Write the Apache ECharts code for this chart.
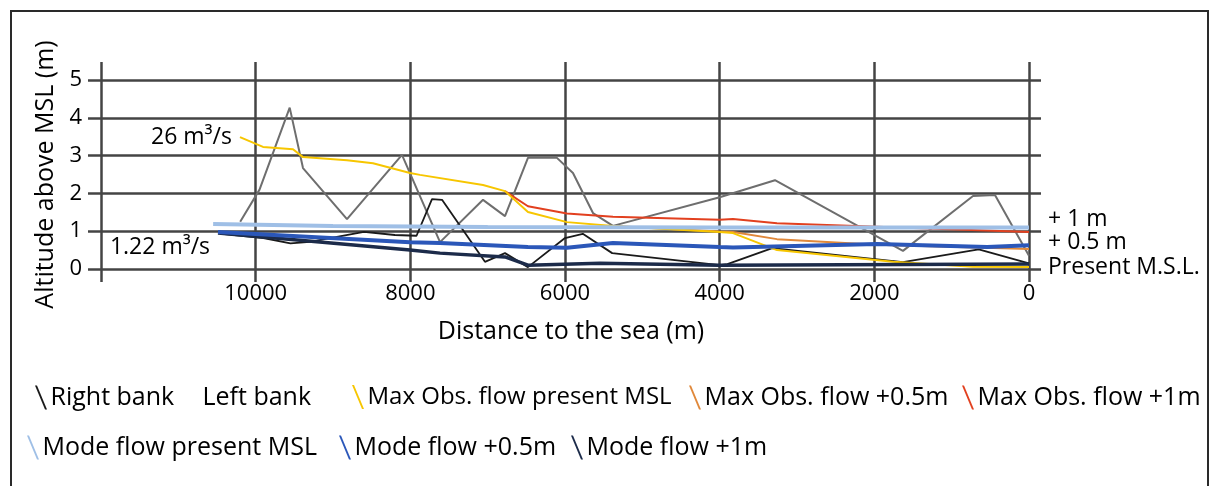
<!DOCTYPE html>
<html>
<head>
<meta charset="utf-8">
<script src="https://cdn.jsdelivr.net/npm/echarts@6/dist/echarts.min.js"></script>
<style>
html,body{margin:0;padding:0;background:#fff;}
#chart{width:1209px;height:486px;}
</style>
</head>
<body>
<div id="chart"></div>
<script>
// ---- data (distance to sea in m, altitude in m) ----
const xTicks = [12000, 10000, 8000, 6000, 4000, 2000, 0];
const yTicks = [0, 1, 2, 3, 4, 5];

const rightBank = [[10400,0.92],[9900,0.82],[9550,0.68],[9300,0.72],[8600,0.98],[8200,0.9],[7920,0.88],[7720,1.85],[7590,1.83],[7035,0.19],[6776,0.42],[6479,0.05],[6000,0.82],[5770,0.93],[5390,0.42],[4000,0.1],[3900,0.13],[3320,0.55],[1630,0.18],[650,0.52],[0,0.15]];
const leftBank = [[10200,1.25],[9950,2.1],[9560,4.27],[9388,2.67],[8819,1.32],[8108,3.02],[7616,0.71],[7060,1.83],[6776,1.4],[6479,2.94],[6104,2.94],[5897,2.54],[5638,1.48],[5380,1.14],[4000,1.9],[3285,2.35],[1630,0.48],[724,1.93],[440,1.96],[0,0.35]];
const maxPresent = [[10203,3.49],[9905,3.23],[9517,3.17],[9388,2.96],[8819,2.88],[8483,2.8],[8004,2.54],[7875,2.49],[7060,2.22],[6776,2.06],[6479,1.51],[5975,1.24],[5380,1.14],[4000,0.98],[3828,0.95],[3259,0.5],[1759,0.19],[724,0.06],[0,0.05]];
const maxHalf = [[5380,1.14],[4000,0.99],[3828,0.98],[3259,0.79],[1966,0.64],[0,0.53]];
const maxOne = [[6776,2.06],[6479,1.66],[5975,1.47],[5380,1.38],[4000,1.3],[3828,1.32],[3259,1.21],[1966,1.12],[0,0.98]];
const modePresent = [[10550,1.19],[9000,1.14],[7000,1.11],[4000,1.1],[0,1.1]];
const modeHalf = [[10487,0.98],[8004,0.71],[7616,0.69],[6479,0.58],[5975,0.56],[5380,0.69],[4000,0.58],[3828,0.57],[1966,0.66],[540,0.58],[0,0.63]];
const modeOne = [[10487,0.95],[9465,0.77],[8004,0.5],[7616,0.42],[6776,0.32],[6479,0.1],[5547,0.15],[4000,0.1],[0,0.13]];

const notes = [
  {name:'26 m\u00B3/s', value:[10203,3.49], pos:'left'},
  {name:'1.22 m\u00B3/s', value:[11237,0.58], pos:'inside'},
  {name:'+ 1 m', value:[0,1.31], pos:'right'},
  {name:'+ 0.5 m', value:[0,0.69], pos:'right'},
  {name:'Present M.S.L.', value:[0,0.05], pos:'right'}
];

// legend entries: [name, left px, top px, icon visible, font size]
const legendItems = [
  ['Right bank', 30, 380, true, 25],
  ['Left bank', 182, 380, false, 25],
  ['Max Obs. flow present MSL', 347, 380, true, 24],
  ['Max Obs. flow +0.5m', 684, 380, true, 25],
  ['Max Obs. flow +1m', 957, 380, true, 25],
  ['Mode flow present MSL', 22, 430, true, 25],
  ['Mode flow +0.5m', 334, 430, true, 25],
  ['Mode flow +1m', 566, 430, true, 25]
];

const FONT = 'Open Sans';
const TXT = '#000';
const GRIDC = '#444';
const icon = 'path://M0,0 L2,0 L12,24 L10,24 Z';

function line(name, data, color, width, z) {
  return {name, type:'line', data, xAxisIndex:0, yAxisIndex:0, showSymbol:false, symbol:'none',
    color, lineStyle:{color, width}, z, animation:false};
}

const chart = echarts.init(document.getElementById('chart'), null, {renderer:'canvas'});
chart.setOption({
  backgroundColor:'#fff',
  animation:false,
  textStyle:{fontFamily:FONT, color:TXT},
  graphic:[{type:'rect', shape:{x:11, y:11, width:1197, height:490}, style:{fill:'none', stroke:'#2a2a2a', lineWidth:2}, z:-10}],
  grid:[
    {left:101, right:180, top:80, bottom:217},
    {left:101, right:180, top:62, bottom:204},
    {left:88, right:168, top:80, bottom:217}
  ],
  xAxis:[
    {gridIndex:0, type:'value', min:0, max:12000, interval:2000, inverse:true,
     axisLine:{show:false}, axisTick:{show:false}, splitLine:{show:false},
     axisLabel:{fontSize:22, color:TXT, fontFamily:FONT, margin:14, formatter:v => v===12000 ? '' : String(v)},
     name:'Distance to the sea (m)', nameLocation:'middle', nameGap:50,
     nameTextStyle:{fontSize:25, color:TXT, fontFamily:FONT, padding:[0,0,0,12]}},
    {gridIndex:1, type:'value', min:0, max:12000, interval:2000, inverse:true,
     axisLine:{show:false}, axisTick:{show:false}, axisLabel:{show:false},
     splitLine:{show:true, lineStyle:{color:GRIDC, width:2.5}}},
    {gridIndex:2, type:'value', min:0, max:1, show:false}
  ],
  yAxis:[
    {gridIndex:0, type:'value', min:0, max:5, interval:1,
     axisLine:{show:false}, axisTick:{show:false}, splitLine:{show:false},
     axisLabel:{fontSize:22, color:TXT, fontFamily:FONT, margin:19},
     name:'Altitude above MSL (m)', nameLocation:'middle', nameGap:40, nameRotate:90,
     nameTextStyle:{fontSize:25, color:TXT, fontFamily:FONT}},
    {gridIndex:1, type:'value', min:0, max:1, show:false},
    {gridIndex:2, type:'value', min:0, max:5, interval:1,
     axisLine:{show:false}, axisTick:{show:false}, axisLabel:{show:false},
     splitLine:{show:true, lineStyle:{color:GRIDC, width:2.5}}}
  ],
  legend: legendItems.map(([name, left, top, vis, fs]) => ({
    left, top, itemWidth:13, itemHeight:24, icon:icon, selectedMode:false,
    textStyle:{fontSize:fs, color:TXT, fontFamily:FONT, padding:[0,0,0,-2]},
    data:[vis ? name : {name, itemStyle:{opacity:0}}]
  })),
  series:[
    line('Left bank', leftBank, '#6e6e6e', 2, 2),
    line('Right bank', rightBank, '#1a1a1a', 1.8, 3),
    line('Max Obs. flow +1m', maxOne, '#e2401f', 2, 4),
    line('Max Obs. flow +0.5m', maxHalf, '#e0883a', 2, 4),
    line('Max Obs. flow present MSL', maxPresent, '#f7c600', 2, 5),
    line('Mode flow +1m', modeOne, '#1c2b4a', 3.5, 6),
    line('Mode flow +0.5m', modeHalf, '#2b57b9', 4, 7),
    line('Mode flow present MSL', modePresent, '#9fbfe6', 4, 8),
    {type:'scatter', xAxisIndex:0, yAxisIndex:0, symbolSize:0, clip:false, silent:true, z:10,
     itemStyle:{opacity:1},
     data: notes.map(n => ({name:n.name, value:n.value,
       label:{show:true, position:n.pos, distance:n.pos==='left'?8:19, formatter:'{b}',
              fontSize:23, color:TXT, fontFamily:FONT, opacity:1}}))}
  ]
});
</script>
</body>
</html>
